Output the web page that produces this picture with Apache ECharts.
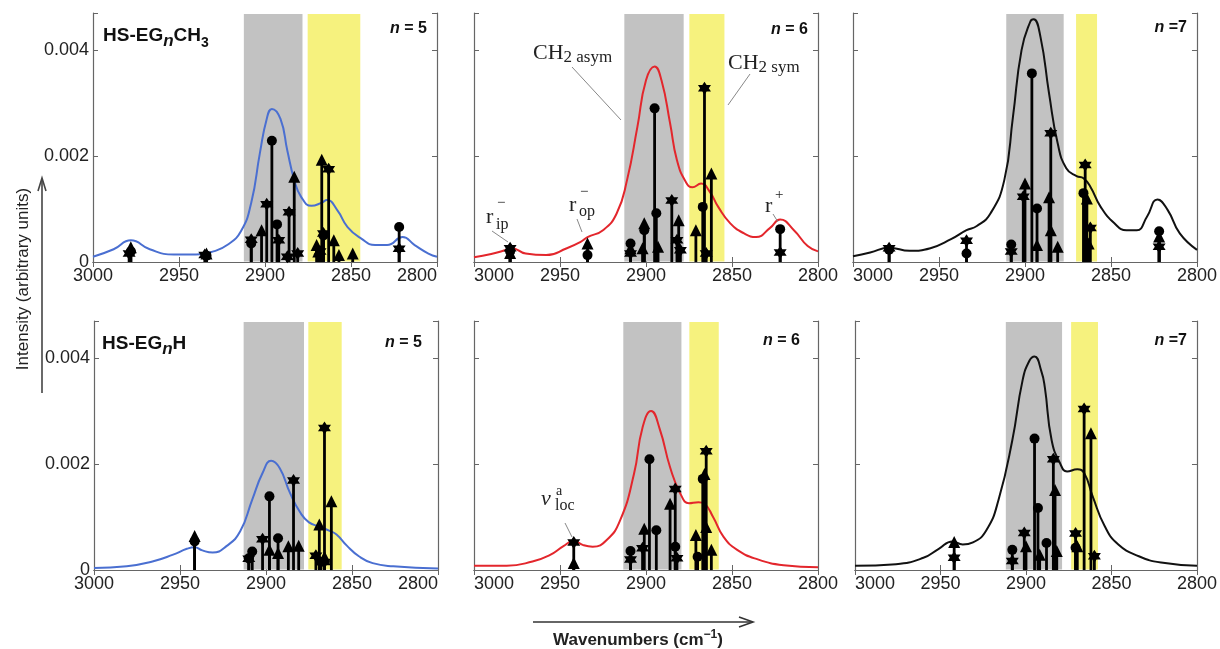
<!DOCTYPE html>
<html>
<head>
<meta charset="utf-8">
<script src="https://cdn.jsdelivr.net/npm/echarts@6/dist/echarts.min.js"></script>
<style>
html, body { margin: 0; background: #fff; }
#chart { width: 1220px; height: 649px; }
</style>
</head>
<body>
<div id="chart"></div>
<script>
// tick labels (y values are read in units of 0.001)
var xTicks = [3000, 2950, 2900, 2850, 2800];
var yTickLabels = { 0: '0', 2: '0.002', 4: '0.004' };

// ---- HS-EG5CH3 ----
var curve1 = [[3000,0.10],[2988,0.24],[2978,0.41],[2967,0.24],[2953,0.14],[2940,0.14],[2930,0.20],[2922,0.32],[2914,0.58],[2908,1.12],[2903,2.05],[2899,2.70],[2896,2.89],[2891,2.70],[2887,2.10],[2883,1.55],[2879,1.23],[2873,1.06],[2867,1.12],[2864,1.17],[2858,0.98],[2852,0.66],[2844,0.44],[2836,0.32],[2829,0.32],[2820,0.47],[2813,0.32],[2805,0.16],[2800,0.10]];
var circ1 = [[2896,2.29],[2893,0.71],[2822,0.66],[2978,0.20],[2908,0.35],[2866,0.50],[2934,0.12]];
var tri1 = [[2902,0.60],[2883,1.61],[2867,1.93],[2870,0.32],[2860,0.41],[2857,0.13],[2849,0.16],[2978,0.28],[2934,0.16],[2869,0.20]];
var star1 = [[2899,1.09],[2908,0.42],[2892,0.41],[2886,0.94],[2881,0.16],[2887,0.10],[2863,1.75],[2866,0.54],[2822,0.25],[2979,0.16],[2935,0.13],[2868,0.20]];
var grey1 = [2912.3, 2878.2];
var yel1 = [2875.2, 2844.6];

// ---- HS-EG6CH3 ----
var curve2 = [[3000,0.09],[2990,0.15],[2981,0.23],[2978,0.26],[2970,0.16],[2958,0.13],[2946,0.26],[2938,0.38],[2934,0.47],[2925,0.60],[2917,0.92],[2911,1.55],[2905,2.55],[2900,3.43],[2895,3.69],[2891,3.43],[2886,2.62],[2882,1.92],[2877,1.52],[2873,1.41],[2868,1.48],[2863,1.33],[2858,1.04],[2851,0.73],[2843,0.54],[2836,0.47],[2828,0.64],[2822,0.80],[2814,0.60],[2806,0.30],[2800,0.20]];
var circ2 = [[2895,2.90],[2894,0.92],[2867,1.04],[2822,0.62],[2934,0.13],[2909,0.35],[2901,0.60],[2979,0.20]];
var tri2 = [[2901,0.73],[2871,0.60],[2862,1.67],[2934,0.35],[2893,0.29],[2881,0.79],[2909,0.26],[2902,0.26],[2979,0.17]];
var star2 = [[2866,3.28],[2885,1.16],[2979,0.26],[2822,0.18],[2882,0.41],[2880,0.22],[2865,0.16],[2909,0.16]];
var grey2 = [2912.6, 2878.1];
var yel2 = [2874.8, 2854.4];

// ---- HS-EG7CH3 ----
var curve3 = [[3000,0.11],[2990,0.18],[2979,0.27],[2967,0.21],[2955,0.26],[2943,0.43],[2934,0.60],[2928,0.68],[2920,0.92],[2912,1.55],[2907,2.74],[2902,4.00],[2897,4.53],[2895,4.58],[2891,4.25],[2886,3.18],[2881,2.24],[2876,1.77],[2870,1.62],[2866,1.58],[2862,1.42],[2856,1.04],[2848,0.73],[2841,0.60],[2835,0.60],[2829,0.86],[2823,1.18],[2817,0.98],[2810,0.54],[2800,0.23]];
var circ3 = [[2896,3.56],[2893,1.01],[2934,0.16],[2908,0.33],[2866,1.30],[2822,0.58],[2979,0.23]];
var tri3 = [[2900,1.48],[2886,1.22],[2885,0.60],[2881,0.29],[2893,0.32],[2822,0.48],[2863,0.35],[2864,1.20]];
var star3 = [[2885,2.43],[2901,1.23],[2865,1.83],[2862,0.64],[2979,0.26],[2934,0.40],[2822,0.29],[2908,0.20]];
var grey3 = [2910.9, 2877.5];
var yel3 = [2870.3, 2858.1];

// ---- HS-EG5H ----
var curve4 = [[3000,0.04],[2981,0.07],[2966,0.16],[2954,0.29],[2946,0.40],[2941.5,0.43],[2937,0.37],[2931,0.33],[2923,0.45],[2915,0.73],[2908,1.33],[2902,1.83],[2897,2.06],[2892,1.92],[2886,1.45],[2880,1.08],[2875,0.90],[2869,0.82],[2863,0.74],[2859,0.67],[2853,0.46],[2846,0.26],[2838,0.13],[2826,0.07],[2800,0.03]];
var circ4 = [[2941.5,0.54],[2898,1.39],[2893,0.60],[2908,0.35],[2868,0.15],[2910,0.22]];
var tri4 = [[2941.5,0.64],[2862,1.30],[2898,0.38],[2881,0.46],[2887,0.45],[2893,0.32],[2869,0.86],[2866,0.25]];
var star4 = [[2866,2.68],[2884,1.69],[2902,0.58],[2871,0.27],[2910,0.21],[2866,0.15]];
var grey4 = [2913.0, 2877.9];
var yel4 = [2875.4, 2856.0];

// ---- HS-EG6H ----
var curve5 = [[3000,0.08],[2981,0.08],[2966,0.16],[2956,0.28],[2948,0.45],[2942,0.55],[2936.5,0.47],[2931,0.44],[2923,0.56],[2915,0.94],[2907,1.81],[2902,2.69],[2897,3.00],[2892,2.66],[2886,1.94],[2880,1.44],[2875,1.26],[2869.5,1.28],[2866,1.25],[2861,1.00],[2855,0.63],[2847,0.38],[2835,0.20],[2820,0.09],[2800,0.05]];
var circ5 = [[2898,2.09],[2894,0.75],[2909,0.36],[2883,0.44],[2867,1.72],[2870,0.25]];
var tri5 = [[2901,0.78],[2886,1.25],[2866,1.81],[2865,0.81],[2871,0.66],[2862,0.38],[2942,0.13]];
var star5 = [[2942,0.52],[2883,1.53],[2865,2.24],[2902,0.41],[2882,0.22],[2909,0.20]];
var grey5 = [2913.2, 2879.4];
var yel5 = [2874.8, 2857.7];

// ---- HS-EG7H ----
var curve6 = [[3000,0.08],[2976,0.11],[2960,0.23],[2951,0.40],[2943,0.54],[2937,0.48],[2931,0.52],[2923,0.76],[2916,1.33],[2908,2.45],[2902,3.58],[2898,3.95],[2895,4.03],[2891,3.75],[2889,3.45],[2885,2.45],[2880,2.01],[2876,1.86],[2870,1.90],[2866,1.83],[2861,1.39],[2854,0.83],[2846,0.48],[2834,0.26],[2821,0.14],[2800,0.08]];
var circ6 = [[2895,2.48],[2893,1.17],[2908,0.38],[2888,0.51],[2871,0.42]];
var tri6 = [[2942,0.53],[2883,1.51],[2862,2.58],[2870,0.45],[2900,0.45],[2892,0.29],[2882,0.36]];
var star6 = [[2866,3.04],[2884,2.09],[2901,0.70],[2942,0.23],[2871,0.69],[2860,0.26],[2908,0.17]];
var grey6 = [2911.8, 2878.9];
var yel6 = [2873.6, 2857.9];

var chart = echarts.init(document.getElementById('chart'));

var blue = '#4a6fd1', red = '#e3262c', black = '#111';
var bandColors = ['#c2c2c2', '#f6f27e'];
var starPath = 'path://M0,-10L2.89,-5L8.66,-5L5.77,0L8.66,5L2.89,5L0,10L-2.89,5L-8.66,5L-5.77,0L-8.66,-5L-2.89,-5Z';
var sansFont = '"Liberation Sans", Arial, sans-serif';
var serifFont = '"Liberation Serif", "Times New Roman", serif';

var panels = [
    { curve: curve1, color: blue, circ: circ1, tri: tri1, star: star1, bands: [grey1, yel1] },
    { curve: curve2, color: red, circ: circ2, tri: tri2, star: star2, bands: [grey2, yel2] },
    { curve: curve3, color: black, circ: circ3, tri: tri3, star: star3, bands: [grey3, yel3] },
    { curve: curve4, color: blue, circ: circ4, tri: tri4, star: star4, bands: [grey4, yel4] },
    { curve: curve5, color: red, circ: circ5, tri: tri5, star: star5, bands: [grey5, yel5] },
    { curve: curve6, color: black, circ: circ6, tri: tri6, star: star6, bands: [grey6, yel6] }
];
var boxes = [
    [93, 13], [474, 13], [853, 13],
    [94, 321], [474, 321], [855, 321]
];

function renderBand(params, api) {
    var cs = params.coordSys;
    var a = api.coord([api.value(0), 0])[0];
    var b = api.coord([api.value(1), 0])[0];
    return {
        type: 'rect',
        shape: { x: Math.min(a, b), y: cs.y + 1, width: Math.abs(b - a), height: cs.height - 1.5 },
        style: { fill: bandColors[params.dataIndex] }
    };
}

function renderStick(params, api) {
    var top = api.coord([api.value(0), api.value(1)]);
    var base = api.coord([api.value(0), 0]);
    return {
        type: 'line',
        shape: { x1: base[0], y1: base[1], x2: top[0], y2: top[1] },
        style: { stroke: '#000', lineWidth: 2.8 }
    };
}

var grids = [], xAxes = [], yAxes = [], series = [];
var tickStyle = { show: true, inside: true, length: 5, lineStyle: { color: '#666' } };
var lineStyleAx = { show: true, lineStyle: { color: '#666', width: 1.2 } };

panels.forEach(function (p, i) {
    var col = i % 3;
    grids.push({ left: boxes[i][0], top: boxes[i][1], width: 344, height: 249 });
    var xLab = {
        show: true, fontSize: 18, color: '#222', fontFamily: sansFont, margin: 5,
        showMinLabel: true, showMaxLabel: true,
        formatter: function (v) { return xTicks.indexOf(v) >= 0 ? String(v) : ''; }
    };
    if (col === 0) xLab.alignMinLabel = 'right';
    else xLab.alignMaxLabel = 'left';
    xAxes.push({
        type: 'value', gridIndex: i, position: 'bottom', min: 2800, max: 3000, interval: 50,
        inverse: true, axisLine: lineStyleAx, axisTick: tickStyle, splitLine: { show: false },
        axisLabel: xLab
    });
    xAxes.push({
        type: 'value', gridIndex: i, position: 'top', min: 2800, max: 3000, interval: 50,
        inverse: true, axisLine: lineStyleAx, axisTick: tickStyle, splitLine: { show: false },
        axisLabel: { show: false }
    });
    yAxes.push({
        type: 'value', gridIndex: i, position: 'left', min: 0, max: 4.7, interval: 2,
        axisLine: lineStyleAx, axisTick: tickStyle, splitLine: { show: false },
        axisLabel: {
            show: col === 0, fontSize: 18, color: '#222', fontFamily: sansFont, margin: 4,
            formatter: function (v) { return yTickLabels[v] !== undefined ? yTickLabels[v] : ''; }
        }
    });
    yAxes.push({
        type: 'value', gridIndex: i, position: 'right', min: 0, max: 4.7, interval: 2,
        axisLine: lineStyleAx, axisTick: tickStyle, splitLine: { show: false },
        axisLabel: { show: false }
    });
    var xi = i * 2, yi = i * 2;
    series.push({
        type: 'custom', xAxisIndex: xi, yAxisIndex: yi, renderItem: renderBand,
        data: p.bands, silent: true, z: 1
    });
    series.push({
        type: 'line', xAxisIndex: xi, yAxisIndex: yi, data: p.curve,
        smooth: 0.5, showSymbol: false, silent: true, z: 2,
        lineStyle: { color: p.color, width: 2 }
    });
    series.push({
        type: 'custom', xAxisIndex: xi, yAxisIndex: yi, renderItem: renderStick,
        data: p.circ.concat(p.tri, p.star), silent: true, z: 3
    });
    var mk = { color: '#000', opacity: 1 };
    series.push({
        type: 'scatter', xAxisIndex: xi, yAxisIndex: yi, data: p.circ, symbol: 'circle',
        symbolSize: 10, itemStyle: mk, silent: true, z: 4
    });
    series.push({
        type: 'scatter', xAxisIndex: xi, yAxisIndex: yi, data: p.tri, symbol: 'triangle',
        symbolSize: 12, itemStyle: mk, silent: true, z: 4
    });
    series.push({
        type: 'scatter', xAxisIndex: xi, yAxisIndex: yi, data: p.star, symbol: starPath,
        symbolSize: 13, itemStyle: mk, silent: true, z: 4
    });
});

function txt(x, y, text, opts) {
    var st = {
        text: text, x: 0, y: 0, fill: opts.fill || '#111',
        font: opts.font, align: opts.align || 'left', verticalAlign: 'middle'
    };
    if (opts.rich) st.rich = opts.rich;
    return { type: 'text', x: x, y: y, rotation: opts.rotation || 0, style: st, z: 100 };
}
function seg(x1, y1, x2, y2, color, w) {
    return { type: 'line', shape: { x1: x1, y1: y1, x2: x2, y2: y2 },
        style: { stroke: color, lineWidth: w }, z: 100 };
}

var titleRich = {
    b: { fontFamily: sansFont, fontWeight: 'bold', fontSize: 19, lineHeight: 28, fill: '#111' },
    i: { fontFamily: sansFont, fontWeight: 'bold', fontStyle: 'italic', fontSize: 17, lineHeight: 15, verticalAlign: 'bottom', fill: '#111' },
    s: { fontFamily: sansFont, fontWeight: 'bold', fontSize: 14, lineHeight: 14, verticalAlign: 'bottom', fill: '#111' }
};
var nRich = {
    i: { fontFamily: sansFont, fontWeight: 'bold', fontStyle: 'italic', fontSize: 16, fill: '#111' },
    b: { fontFamily: sansFont, fontWeight: 'bold', fontSize: 16, fill: '#111' }
};
var chRich = {
    a: { fontFamily: serifFont, fontSize: 22, lineHeight: 26, fill: '#222' },
    b: { fontFamily: serifFont, fontSize: 17, lineHeight: 16, verticalAlign: 'bottom', fill: '#222' }
};
var xtRich = {
    b: { fontFamily: sansFont, fontWeight: 'bold', fontSize: 17, lineHeight: 22, fill: '#222' },
    s: { fontFamily: sansFont, fontWeight: 'bold', fontSize: 12, lineHeight: 12, verticalAlign: 'top', fill: '#222' }
};
var serif22 = '22px ' + serifFont, serif16 = '16px ' + serifFont, serif15 = '15px ' + serifFont;
var grey = '#888';

var graphics = [
    txt(103, 36, '{b|HS-EG}{i|n}{b|CH}{s|3}', { rich: titleRich }),
    txt(102, 344, '{b|HS-EG}{i|n}{b|H}', { rich: titleRich }),
    txt(427, 29, '{i|n}{b| = 5}', { rich: nRich, align: 'right' }),
    txt(808, 30, '{i|n}{b| = 6}', { rich: nRich, align: 'right' }),
    txt(1187, 28, '{i|n}{b| =7}', { rich: nRich, align: 'right' }),
    txt(422, 343, '{i|n}{b| = 5}', { rich: nRich, align: 'right' }),
    txt(800, 341, '{i|n}{b| = 6}', { rich: nRich, align: 'right' }),
    txt(1187, 341, '{i|n}{b| =7}', { rich: nRich, align: 'right' }),

    txt(533, 53, '{a|CH}{b|2 asym}', { rich: chRich }),
    seg(572, 67, 621, 120, grey, 1),
    txt(728, 63, '{a|CH}{b|2 sym}', { rich: chRich }),
    seg(750, 74, 728, 105, grey, 1),

    txt(486, 217, 'r', { font: serif22, fill: '#222' }),
    txt(497, 203, '\u2212', { font: serif15, fill: '#222' }),
    txt(496, 225, 'ip', { font: serif16, fill: '#222' }),
    seg(492, 231, 508, 242, grey, 1),

    txt(569, 205, 'r', { font: serif22, fill: '#222' }),
    txt(580, 192, '\u2212', { font: serif15, fill: '#222' }),
    txt(579, 212, 'op', { font: serif16, fill: '#222' }),
    seg(577, 219, 582, 232, grey, 1),

    txt(765, 206, 'r', { font: serif22, fill: '#222' }),
    txt(775, 195, '+', { font: serif15, fill: '#222' }),
    seg(773, 214, 778, 222, grey, 1),

    txt(541, 499, '\u03bd', { font: 'italic 22px ' + serifFont, fill: '#222' }),
    txt(556, 491, 'a', { font: '14px ' + serifFont, fill: '#222' }),
    txt(555, 506, 'loc', { font: serif16, fill: '#222' }),
    seg(565, 523, 572, 537, grey, 1),

    txt(23, 279, 'Intensity (arbitrary units)', { font: '17px ' + sansFont, fill: '#222', align: 'center', rotation: Math.PI / 2 }),
    seg(42, 393, 42, 179, '#444', 1.6),
    { type: 'polyline', shape: { points: [[38, 191], [42, 178], [46, 191]] }, style: { stroke: '#444', lineWidth: 1.6, fill: null }, z: 100 },

    txt(638, 640, '{b|Wavenumbers (cm}{s|\u22121}{b|)}', { rich: xtRich, align: 'center' }),
    seg(533, 622, 752, 622, '#333', 1.6),
    { type: 'polyline', shape: { points: [[739, 617], [753, 622], [739, 627]] }, style: { stroke: '#333', lineWidth: 1.6, fill: null }, z: 100 }
];

chart.setOption({
    animation: false,
    backgroundColor: '#fff',
    grid: grids,
    xAxis: xAxes,
    yAxis: yAxes,
    series: series,
    graphic: graphics
});
</script>
</body>
</html>
